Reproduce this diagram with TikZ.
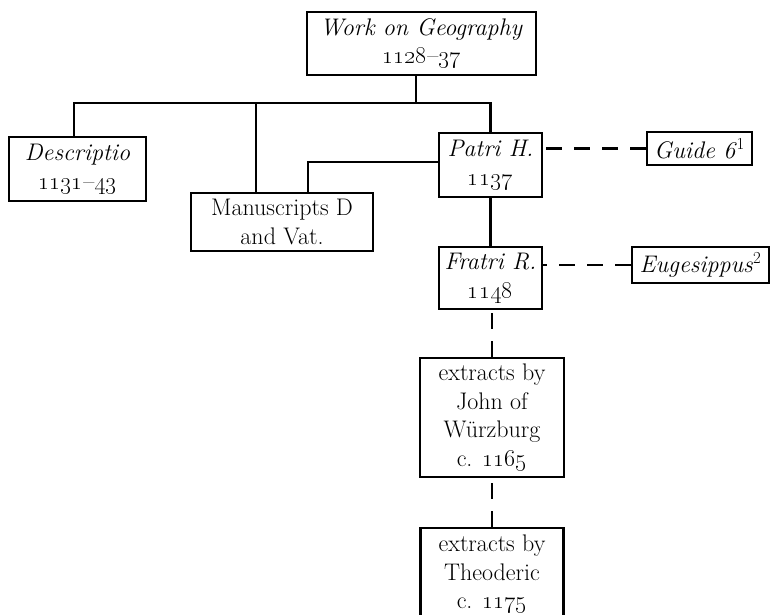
\RequirePackage{fix-cm}
\documentclass[tikz,border=0pt]{standalone}

\begin{document}
\begin{tikzpicture}[x=1pt, y=-1pt, line width=2.4pt,
	box/.style={draw, align=center, inner sep=0pt, font=\fontsize{24}{28.5}\selectfont},
	link/.style={dash pattern=on 16pt off 12pt}]

\useasboundingbox (0,0) rectangle (771,614);

			\node[box, minimum width=229pt, minimum height=63pt] (geo) at (421.5,43.5) {\textit{Work on Geography}\\ \oldstylenums{1128}--\oldstylenums{37}};
			\node[box, minimum width=137pt, minimum height=64pt] (descr) at (77.5,169) {\textit{Descriptio}\\ \oldstylenums{1131}--\oldstylenums{43}};
			\node[box, minimum width=182pt, minimum height=58pt] (ms) at (282,222) {Manuscripts D\\ and Vat.};
			\node[box, minimum width=103pt, minimum height=64pt] (patri) at (490.5,165) {\textit{Patri H.}\\ \oldstylenums{1137}};
			\node[box, minimum width=105pt, minimum height=33pt] (guide) at (699.5,148.5) {\textit{Guide 6}\textsuperscript{1}};
			\node[box, minimum width=103pt, minimum height=62pt] (fratri) at (490.5,278) {\textit{Fratri R.}\\ \oldstylenums{1148}};
			\node[box, minimum width=137pt, minimum height=36pt] (eug) at (700.5,265) {\textit{Eugesippus}\textsuperscript{2}};
			\node[box, minimum width=144pt, minimum height=119pt] (john) at (492,417.5) {extracts by\\ John of\\ W\"urzburg\\ c. \oldstylenums{1165}};
			\node[box, minimum width=143pt, minimum height=92pt] (theo) at (492,574) {extracts by\\ Theoderic\\ c. \oldstylenums{1175}};

			\coordinate (fork) at (416,103);
			\draw (geo.south -| fork) -- (fork);
			\draw ([xshift=-3.5pt]descr.north) -- ([xshift=-3.5pt]descr.north |- fork) -- (patri.north |- fork) -- (patri.north);
			\draw ([xshift=-26pt]ms.north) -- ([xshift=-26pt]ms.north |- fork);
			\draw ([yshift=3pt]patri.west) -| ([xshift=26pt]ms.north);
			\draw (patri.south) -- (patri.south |- fratri.north);

			\draw[link] (guide.west) -- (guide.west -| patri.east);
			\draw[link] (eug.west) -- (eug.west -| fratri.east);
			\draw[link] (john.north) -- (john.north |- fratri.south);
			\draw[link] (theo.north) -- (theo.north |- john.south);

		\end{tikzpicture}
\end{document}
